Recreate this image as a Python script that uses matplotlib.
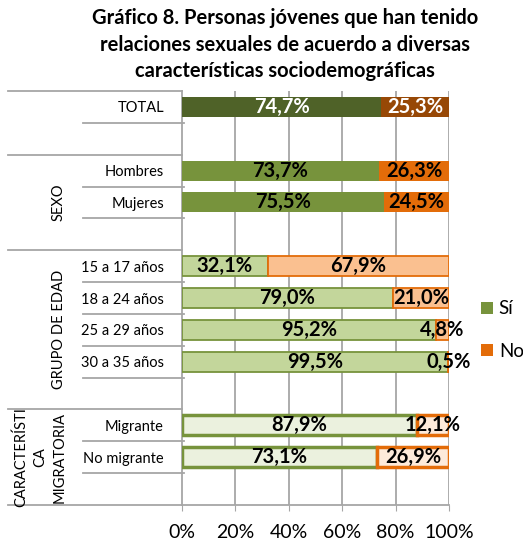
import numpy as np
import matplotlib
matplotlib.use("Agg")
import matplotlib.pyplot as plt
from matplotlib.patches import Patch

plt.rcParams['font.family'] = ['Lato', 'DejaVu Sans']

# ---- data ----
categories = ["TOTAL", "", "Hombres", "Mujeres", "", "15 a 17 años", "18 a 24 años",
              "25 a 29 años", "30 a 35 años", "", "Migrante", "No migrante", ""]
si_values = [74.7, np.nan, 73.7, 75.5, np.nan, 32.1, 79.0, 95.2, 99.5, np.nan, 87.9, 73.1, np.nan]
no_values = [25.3, np.nan, 26.3, 24.5, np.nan, 67.9, 21.0, 4.8, 0.5, np.nan, 12.1, 26.9, np.nan]
groups = ["", "SEXO", "GRUPO DE EDAD", "CARACTERÍSTI\nCA\nMIGRATORIA"]
group_sizes = [2, 3, 5, 3]
xticks = [0, 20, 40, 60, 80, 100]
series_names = ["Sí", "No"]
title = ("Gráfico 8. Personas jóvenes que han tenido\n"
         "relaciones sexuales de acuerdo a diversas\n"
         "características sociodemográficas")

# styles per row
si_face = ["#4F6228", None, "#77933C", "#77933C", None, "#C3D69B", "#C3D69B", "#C3D69B", "#C3D69B",
           None, "#EBF1DE", "#EBF1DE", None]
no_face = ["#974806", None, "#E36C09", "#E36C09", None, "#FAC090", "#FAC090", "#FAC090", "#FAC090",
           None, "#FDEADA", "#FDEADA", None]
edge_w = [0, 0, 0, 0, 0, 1.3, 1.3, 1.3, 1.3, 0, 2.5, 2.5, 0]
text_col = ["white"] + ["black"] * 12

W, H = 523, 543
fig = plt.figure(figsize=(W / 100, H / 100), dpi=100)
ax = fig.add_axes([182 / W, 1 - 505 / H, (449 - 182) / W, (505 - 91) / H])

n = len(categories)
y = np.arange(n)
bh = 0.63
grid_c = "#A6A6A6"

for i in range(n):
    if np.isnan(si_values[i]):
        continue
    s, o = si_values[i], no_values[i]
    ew = edge_w[i]
    ax.barh(y[i], s, height=bh, color=si_face[i],
            edgecolor="#77933C" if ew else "none", linewidth=ew, zorder=3)
    ax.barh(y[i], o, left=s, height=bh, color=no_face[i],
            edgecolor="#E36C09" if ew else "none", linewidth=ew, zorder=3)
    fmt = lambda v: f"{v:.1f}%".replace(".", ",")
    ax.text(s / 2, y[i], fmt(s), ha="center", va="center", fontsize=14.5,
            fontweight="bold", color=text_col[i], zorder=5)
    ax.text(s + o / 2, y[i], fmt(o), ha="center", va="center", fontsize=14.5,
            fontweight="bold", color=text_col[i], zorder=5)

ax.set_xlim(0, 100)
ax.set_ylim(n - 0.5, -0.5)
ax.set_xticks(xticks)
ax.set_xticklabels([f"{t}%" for t in xticks], fontsize=14)
ax.tick_params(axis="x", length=4, color=grid_c, pad=10)
ax.set_yticks(y)
ax.set_yticklabels(categories, fontsize=10.5)
ax.tick_params(axis="y", length=0, pad=13)
for t in xticks[1:]:
    ax.axvline(t, color=grid_c, lw=1.3, zorder=1)
for sp in ["top", "right"]:
    ax.spines[sp].set_visible(False)
ax.spines["left"].set_color(grid_c)
ax.spines["bottom"].set_color(grid_c)
ax.spines["left"].set_linewidth(1.3)
ax.spines["bottom"].set_linewidth(1.3)

# separators in category area
x_long = (8 - 182) / (449 - 182)
x_short = (83 - 182) / (449 - 182)
bt = ax.get_yaxis_transform()
boundaries = np.cumsum([0] + group_sizes)
for b in boundaries:
    ax.plot([x_long, 0], [b - 0.5, b - 0.5], transform=bt, color=grid_c, lw=1.3, clip_on=False)
for i in range(n):
    yb = i + 0.5
    if (i + 1) in boundaries:
        continue
    ax.plot([x_short, 0.008], [yb, yb], transform=bt, color=grid_c, lw=1.3, clip_on=False)

# group labels
gx = [(59 - 182) / 267, (59 - 182) / 267, (59 - 182) / 267, (40 - 182) / 267]
for g, (lab, sz) in enumerate(zip(groups, group_sizes)):
    if not lab:
        continue
    yc = (boundaries[g] + boundaries[g + 1] - 1) / 2
    ax.text(gx[g], yc, lab, transform=bt, rotation=90, ha="center", va="center",
            fontsize=10.5, multialignment="center", linespacing=1.45)

fig.suptitle(title, x=285 / W, y=1 - 8 / H, va="top", fontsize=14.5, fontweight="bold",
             linespacing=1.42)

handles = [Patch(facecolor="#77933C", label=series_names[0]),
           Patch(facecolor="#E36C09", label=series_names[1])]
fig.legend(handles=handles, loc="center left", bbox_to_anchor=(481 / W, 1 - 330 / H),
           frameon=False, fontsize=13.5, handlelength=0.65, handleheight=0.65,
           handletextpad=0.3, labelspacing=1.35, borderpad=0, borderaxespad=0)

fig.savefig("out.png", dpi=100)
